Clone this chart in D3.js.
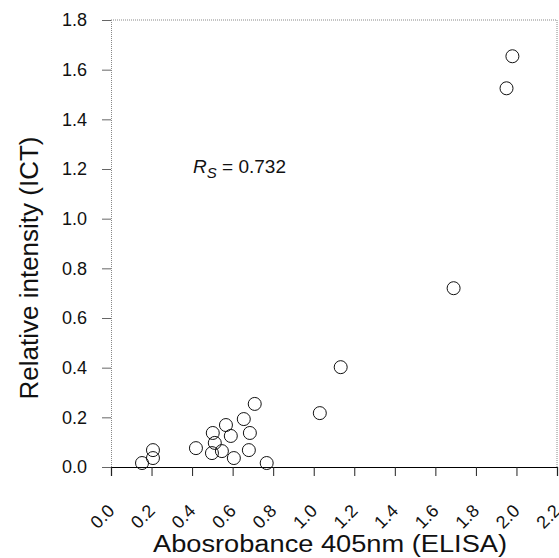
<!DOCTYPE html>
<html>
<head>
<meta charset="utf-8">
<script src="https://cdn.jsdelivr.net/npm/d3@7"></script>
<style>
  body { margin: 0; background: #fff; }
  svg { font-family: "Liberation Sans", Arial, sans-serif; }
</style>
</head>
<body>
<div id="content"></div>
<script>
var width = 559,
    height = 558;

var margin = { left: 111, right: 2, top: 20, bottom: 91 };

// values
var elisa = [1.98, 1.951, 1.69, 1.133, 1.03, 0.709, 0.655, 0.567, 0.502, 0.591, 0.685,
             0.512, 0.419, 0.498, 0.547, 0.606, 0.68, 0.768, 0.207, 0.207, 0.153];
var ict = [1.654, 1.525, 0.72, 0.402, 0.217, 0.254, 0.193, 0.169, 0.137, 0.125, 0.137,
           0.097, 0.076, 0.056, 0.064, 0.036, 0.068, 0.016, 0.068, 0.036, 0.016];
var xTicks = [0, 0.2, 0.4, 0.6, 0.8, 1.0, 1.2, 1.4, 1.6, 1.8, 2.0, 2.2];
var yTicks = [0, 0.2, 0.4, 0.6, 0.8, 1.0, 1.2, 1.4, 1.6, 1.8];
var rsValue = "0.732";

var svg = d3.select("#content")
    .append("svg")
    .attr("width", width)
    .attr("height", height);

var x = d3.scaleLinear()
    .domain([0, 2.2])
    .range([margin.left, width - margin.right]);

var y = d3.scaleLinear()
    .domain([0, 1.8])
    .range([height - margin.bottom, margin.top]);

// frame: top and right borders look faint/dotted in the scan
svg.append("line")
    .attr("x1", x(0)).attr("x2", x(2.2))
    .attr("y1", y(1.8)).attr("y2", y(1.8))
    .attr("stroke", "#888").attr("stroke-dasharray", "1,1");
svg.append("line")
    .attr("x1", x(2.2)).attr("x2", x(2.2))
    .attr("y1", y(1.8)).attr("y2", y(0))
    .attr("stroke", "#888").attr("stroke-dasharray", "1,1");

// x axis
var xAxis = svg.append("g")
    .attr("transform", "translate(0," + y(0) + ")")
    .call(d3.axisBottom(x).tickValues(xTicks).tickFormat(d3.format(".1f")).tickSizeOuter(0).tickSize(9));
xAxis.select(".domain").attr("stroke", "#000").attr("stroke-width", 1.2);
xAxis.selectAll(".tick line").attr("stroke", "#222");
xAxis.selectAll(".tick text")
    .style("font-size", "18px")
    .attr("fill", "#111")
    .attr("text-anchor", "end")
    .attr("dy", null)
    .attr("y", null)
    .attr("transform", "translate(4,45) rotate(-45)");

// y axis
var yAxis = svg.append("g")
    .attr("transform", "translate(" + x(0) + ",0)")
    .call(d3.axisLeft(y).tickValues(yTicks).tickFormat(d3.format(".1f")).tickSizeOuter(0).tickSize(9));
yAxis.select(".domain").attr("stroke", "#888").attr("stroke-dasharray", "1,1");
yAxis.selectAll(".tick line").attr("stroke", "#666");
yAxis.selectAll(".tick text")
    .style("font-size", "18px")
    .attr("fill", "#111")
    .attr("x", -24);

// points
svg.selectAll("circle.pt")
    .data(elisa)
    .enter()
    .append("circle")
    .attr("class", "pt")
    .attr("cx", function (d) { return x(d); })
    .attr("cy", function (d, i) { return y(ict[i]); })
    .attr("r", 6.5)
    .attr("fill", "none")
    .attr("stroke", "#111")
    .attr("stroke-width", 1);

// annotation
var ann = svg.append("text")
    .attr("x", 193)
    .attr("y", 173)
    .attr("font-size", 19)
    .attr("fill", "#111");
ann.append("tspan").attr("font-style", "italic").text("R");
ann.append("tspan").attr("font-style", "italic").attr("font-size", 15).attr("dy", 5).text("S");
ann.append("tspan").attr("dy", -5).text(" = " + rsValue);

// axis titles
svg.append("text")
    .attr("x", 330)
    .attr("y", 552)
    .attr("text-anchor", "middle")
    .attr("font-size", 23)
    .attr("textLength", 354)
    .attr("lengthAdjust", "spacingAndGlyphs")
    .attr("fill", "#111")
    .text("Abosrobance 405nm (ELISA)");

svg.append("text")
    .attr("transform", "translate(38,268) rotate(-90)")
    .attr("text-anchor", "middle")
    .attr("font-size", 25)
    .attr("textLength", 263)
    .attr("lengthAdjust", "spacingAndGlyphs")
    .attr("fill", "#111")
    .text("Relative intensity (ICT)");
</script>
</body>
</html>
